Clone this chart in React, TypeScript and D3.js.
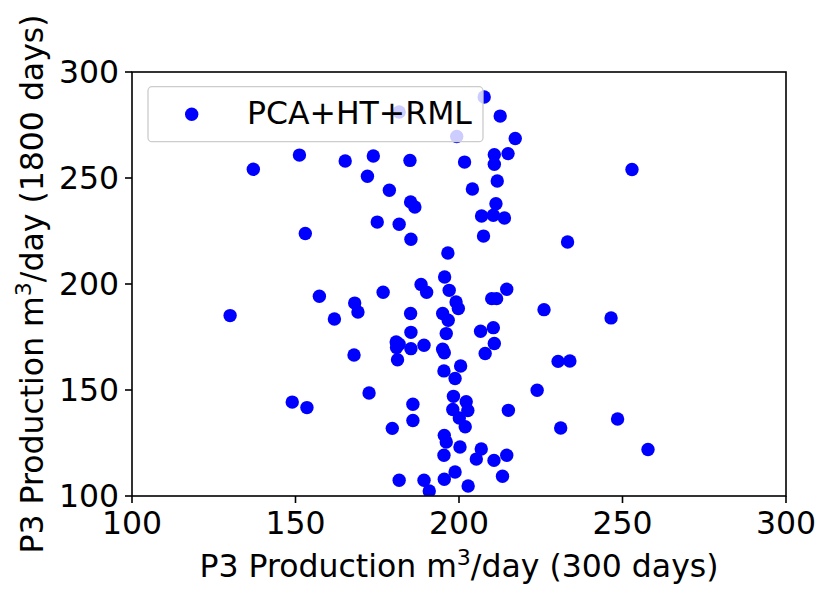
import React from "react";
import * as d3 from "d3";

const x300: number[] = [
  181.7, 199.3, 207.7, 212.6, 217.2, 210.8, 215.0, 210.8, 201.7, 211.7,
  204.1, 211.3, 206.9, 210.5, 213.9, 207.5, 252.9, 233.2, 196.6, 195.6,
  137.1, 151.2, 165.2, 173.8, 185.0, 172.0, 178.7, 185.2, 186.5, 175.0,
  181.7, 185.3, 153.0, 188.4, 190.1, 197.0, 199.1, 199.8, 157.3, 168.1,
  169.1, 176.8, 161.9, 130.0, 185.2, 195.0, 196.7, 185.3, 196.1, 180.8,
  181.7, 180.9, 185.3, 189.3, 195.0, 195.5, 167.9, 181.2, 200.5, 195.4,
  198.8, 172.5, 198.3, 149.0, 153.5, 185.9, 198.1, 200.1, 185.9, 179.6,
  195.5, 196.1, 200.3, 195.4, 198.8, 181.7, 189.3, 190.9, 195.5, 214.6,
  210.0, 211.5, 226.0, 246.5, 206.6, 210.5, 210.8, 208.0, 230.3, 233.9,
  223.9, 202.2, 202.7, 201.9, 215.1, 248.5, 231.1, 206.8, 214.6, 205.3,
  210.7, 257.8, 213.3, 202.8, 249.6,
];
const y1800: number[] = [
  281.1, 269.6, 288.2, 279.2, 268.6, 261.0, 261.5, 256.5, 257.5, 248.6,
  244.8, 237.9, 232.1, 232.4, 231.1, 222.6, 254.0, 219.8, 214.6, 203.3,
  254.1, 260.8, 258.0, 260.4, 258.3, 250.8, 244.2, 238.7, 236.3, 229.2,
  228.2, 221.1, 223.8, 199.8, 196.1, 197.0, 191.5, 188.4, 194.2, 191.0,
  186.8, 196.1, 183.5, 185.1, 186.1, 186.1, 182.9, 177.2, 176.6, 172.7,
  171.6, 170.0, 169.5, 171.1, 169.2, 167.6, 166.5, 164.3, 161.3, 159.0,
  155.4, 148.6, 147.0, 144.3, 141.7, 143.3, 140.8, 136.8, 135.6, 131.9,
  128.6, 125.5, 123.1, 119.2, 111.3, 107.4, 107.4, 102.4, 107.9, 197.5,
  193.1, 193.1, 187.9, 184.0, 177.7, 179.4, 171.9, 167.2, 163.5, 163.7,
  149.9, 144.5, 140.3, 132.7, 140.4, 136.3, 132.1, 122.2, 119.2, 117.4,
  116.8, 121.9, 109.3, 104.7, 96.5,
];
const xTicks: number[] = [100, 150, 200, 250, 300];
const yTicks: number[] = [100, 150, 200, 250, 300];
const seriesName = "PCA+HT+RML";

const W = 831;
const H = 599;
const L = 132;
const R = 786;
const T = 72;
const B = 496;
const FONT = "DejaVu Sans";
const FS = 31.5;

export default function App() {
  const xs = d3.scaleLinear().domain([100, 300]).range([L, R]);
  const ys = d3.scaleLinear().domain([100, 300]).range([B, T]);
  const pts = x300.map((x, i) => ({ x, y: y1800[i] }));
  return (
    <svg
      width={W}
      height={H}
      style={{ position: "absolute", left: 0, top: 0, background: "#fff" }}
      fontFamily={FONT}
    >
      <defs>
        <clipPath id="plotclip">
          <rect x={L} y={T} width={R - L} height={B - T} />
        </clipPath>
      </defs>
      <rect x={0} y={0} width={W} height={H} fill="#fff" />
      <g clipPath="url(#plotclip)">
        {pts.map((p, i) => (
          <circle key={i} cx={xs(p.x)} cy={ys(p.y)} r={6.7} fill="#0000ff" />
        ))}
      </g>
      <rect x={L} y={T} width={R - L} height={B - T} fill="none" stroke="#000" strokeWidth={1.6} />
      {xTicks.map((t) => (
        <g key={"x" + t}>
          <line x1={xs(t)} x2={xs(t)} y1={B} y2={B + 7} stroke="#000" strokeWidth={1.6} />
          <text x={xs(t)} y={533.5} fontSize={FS} textAnchor="middle" fill="#000">
            {t}
          </text>
        </g>
      ))}
      {yTicks.map((t) => (
        <g key={"y" + t}>
          <line x1={L - 7} x2={L} y1={ys(t)} y2={ys(t)} stroke="#000" strokeWidth={1.6} />
          <text x={119} y={ys(t) + 11.4} fontSize={FS} textAnchor="end" fill="#000">
            {t}
          </text>
        </g>
      ))}
      <text x={(L + R) / 2} y={576.5} fontSize={FS} textAnchor="middle" fill="#000">
        P3 Production m
        <tspan dy={-12} fontSize={FS * 0.7}>3</tspan>
        <tspan dy={12}>/day (300 days)</tspan>
      </text>
      <text
        transform={`translate(43, ${(T + B) / 2}) rotate(-90)`}
        fontSize={FS}
        textAnchor="middle"
        fill="#000"
      >
        P3 Production m
        <tspan dy={-12} fontSize={FS * 0.7}>3</tspan>
        <tspan dy={12}>/day (1800 days)</tspan>
      </text>
      <rect
        x={148}
        y={86.7}
        width={335}
        height={55}
        rx={4}
        fill="#fff"
        fillOpacity={0.8}
        stroke="#cccccc"
        strokeWidth={1.3}
      />
      <circle cx={191.7} cy={114.3} r={6.7} fill="#0000ff" />
      <text x={247} y={123.5} fontSize={FS} fill="#000">
        {seriesName}
      </text>
    </svg>
  );
}
